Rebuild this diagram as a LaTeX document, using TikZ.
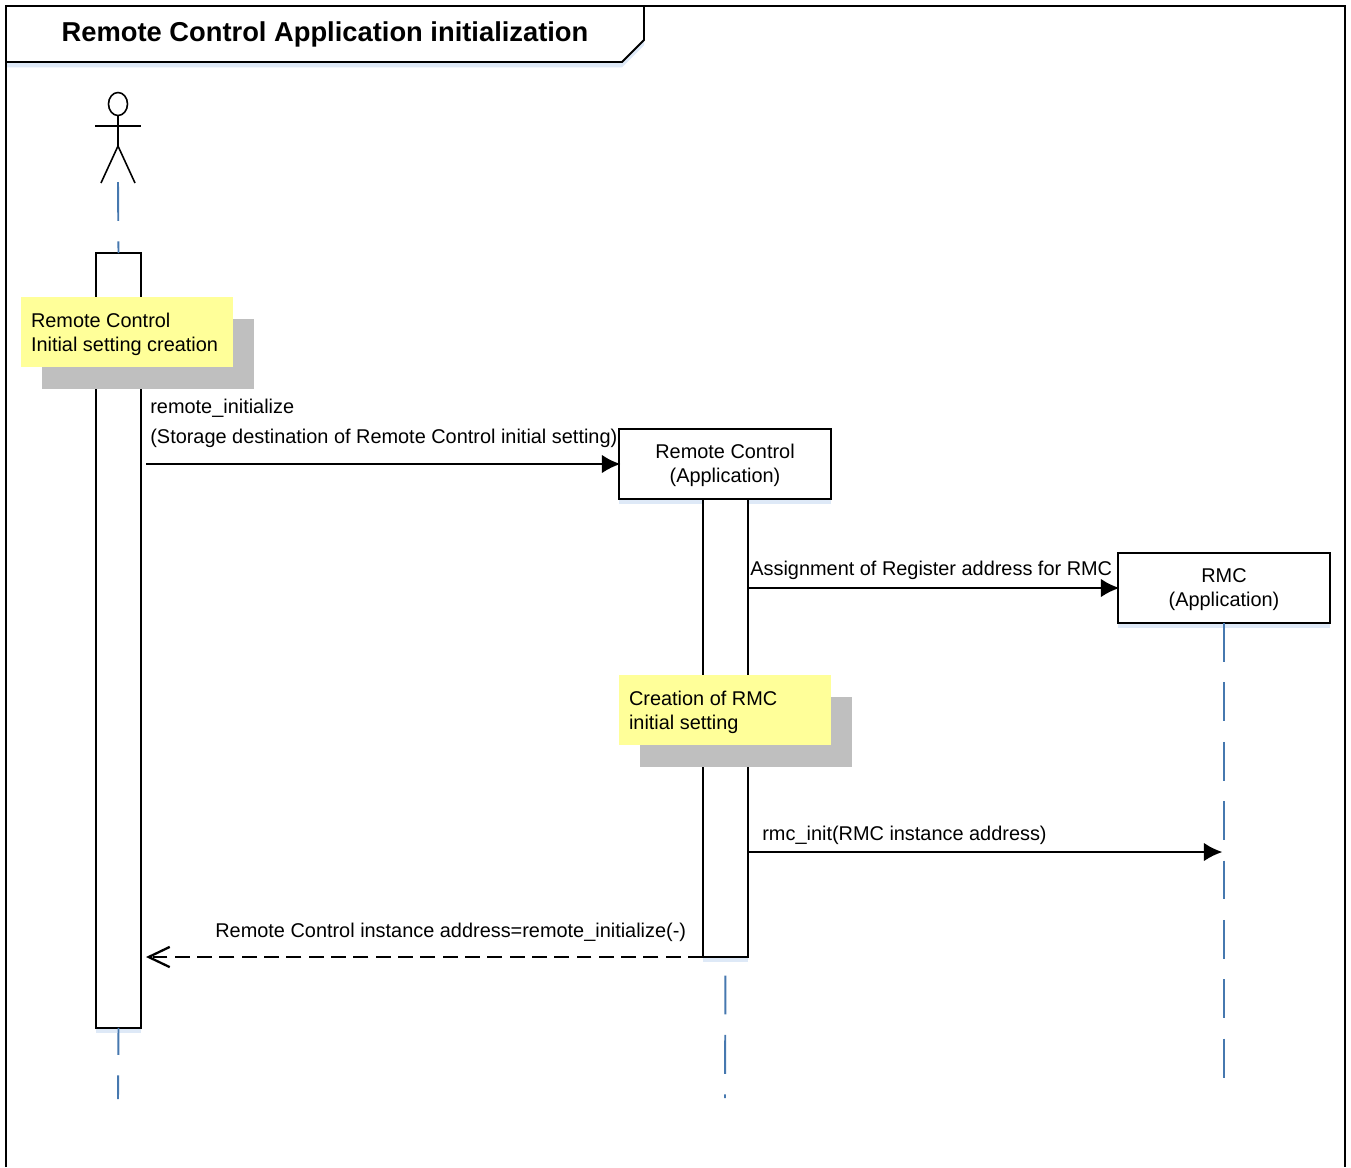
\documentclass[tikz,border=0pt]{standalone}
\usepackage{fontspec}
\setmainfont{Liberation Sans}
\usetikzlibrary{arrows.meta,shadows}
\definecolor{lifeblue}{RGB}{70,120,175}
\definecolor{softblue}{RGB}{222,233,247}
\definecolor{notey}{RGB}{255,255,153}
\definecolor{noteg}{RGB}{191,191,191}
\newcommand{\notestrut}{\rule{0pt}{12.4pt}}
\tikzset{
    lbl/.style={inner sep=0pt,anchor=base west,font=\fontsize{11.33}{13.6}\selectfont},
    objbox/.style={draw,fill=white,line width=.9pt,outer sep=0pt,minimum width=4.24cm,minimum height=1.4cm,inner sep=0pt,align=center,font=\fontsize{11.33}{13.6}\selectfont,drop shadow={shadow xshift=0pt,shadow yshift=-3pt,fill=softblue,opacity=1}},
    barbox/.style={draw,fill=white,line width=.9pt,outer sep=0pt,minimum width=.9cm,inner sep=0pt,drop shadow={shadow xshift=0pt,shadow yshift=-3pt,fill=softblue,opacity=1}},
    notebox/.style={fill=notey,minimum width=4.24cm,minimum height=1.4cm,inner xsep=.2cm,inner ysep=0pt,text width=3.84cm,align=flush left,font=\fontsize{11.33}{13.6}\selectfont,drop shadow={shadow xshift=.42cm,shadow yshift=-.44cm,fill=noteg,opacity=1}},
    lifeline/.style={draw=lifeblue,line width=1.1pt,dash pattern=on 22.1pt off 11.7pt},
    msg/.style={line width=1.3pt,shorten >=-.8pt,-{Latex[length=10.5pt,width=10.5pt]}},
    reply/.style={line width=1.5pt,dash pattern=on 8.5pt off 4.2pt,-{Straight Barb[length=12pt,width=11.5pt,line width=1.3pt]}}
}
\begin{document}
\begin{tikzpicture}[x=0.02cm,y=-0.02cm]
    \useasboundingbox (0,0) rectangle (1351,1167);
    \coordinate (actfoot) at (118,182);
    \coordinate (actend) at (118,1099);
    \coordinate (rcend) at (725,1098);
    \coordinate (rmcend) at (1224,1079);
    \coordinate (m1start) at (146,464);
    \coordinate (m2start) at (748,588);
    \coordinate (m2end) at (1118,588);
    \coordinate (m3start) at (748,852);
    \coordinate (m3end) at (1221,852);
    \coordinate (m4start) at (703,957);
    \coordinate (m4end) at (146,957);

    \draw[line width=1.1pt,fill=white,drop shadow={shadow xshift=0pt,shadow yshift=-3pt,fill=softblue,opacity=1}] (6,6) -- (644,6) -- (644,40) -- (622,62) -- (6,62) -- cycle;
    \draw[line width=1.1pt] (6,1167) -- (6,6) -- (1345,6) -- (1345,1167);
    \node[inner sep=0pt,anchor=base,font=\fontsize{15.55}{18}\selectfont\bfseries] (title) at (325,41) {Remote Control Application initialization};

    \draw[line width=.9pt] (118,104) ellipse (9.5 and 11.5);
    \draw[line width=.9pt] (118,115.5) -- (118,146);
    \draw[line width=.9pt] (95,126) -- (141,126);
    \draw[line width=.9pt] (101,183) -- (118,146) -- (135,183);

    \node[objbox] (rc) at (725,464) {\strut Remote Control\\(Application)};
    \node[objbox] (rmc) at (1224,588) {\strut RMC\\(Application)};
    \node[barbox,minimum height=15.5cm] (actbar) at (118.5,640.5) {};
    \node[barbox,minimum height=9.16cm] (rcbar) at (725.5,728) {};
    \draw[lifeline] (actfoot) -- (actbar.north);
    \draw[lifeline,dash phase=6.8pt] (actbar.south) -- (actend);
    \draw[lifeline,dash phase=23.2pt] (rcbar.south) -- (rcend);
    \draw[lifeline] (rmc.south) -- (rmcend);

    \node[notebox] (note1) at (127,332) {\notestrut Remote Control\\\strut Initial setting creation};
    \node[notebox] (note2) at (725,710) {\notestrut Creation of RMC\\\strut initial setting};

    \draw[msg] (m1start) -- (rc.west);
    \draw[msg] (m2start) -- (m2end);
    \draw[msg] (m3start) -- (m3end);
    \draw[reply] (m4start) -- (m4end);

    \node[lbl] (m1a) at (150,413) {remote\_initialize};
    \node[lbl] (m1b) at (150,443) {(Storage destination of Remote Control initial setting)};
    \node[lbl] (m2) at (750,575) {Assignment of Register address for RMC};
    \node[lbl] (m3) at (762,840) {rmc\_init(RMC instance address)};
    \node[lbl] (m4) at (215,937) {Remote Control instance address=remote\_initialize(-)};
\end{tikzpicture}
\end{document}
